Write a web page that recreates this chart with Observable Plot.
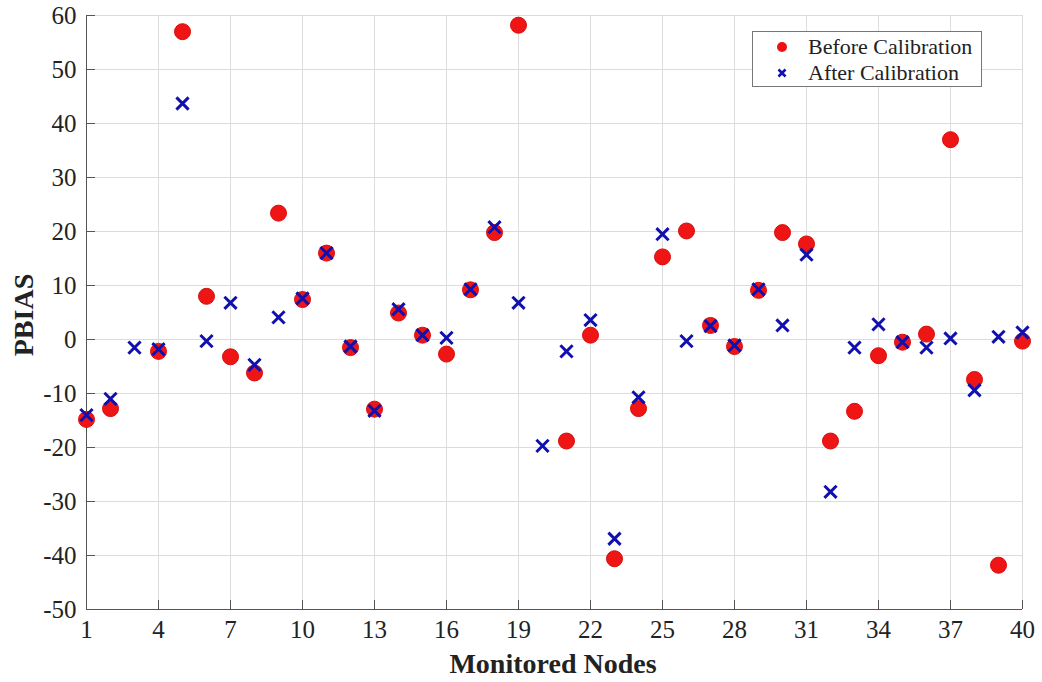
<!DOCTYPE html>
<html>
<head>
<meta charset="utf-8">
<script src="https://cdn.jsdelivr.net/npm/d3@7"></script>
<script src="https://cdn.jsdelivr.net/npm/@observablehq/plot@0.6"></script>
<style>
  html, body { margin: 0; padding: 0; background: #fff; }
  #wrap { position: relative; width: 1042px; height: 682px; font-family: "Liberation Serif", "Times New Roman", serif; }
  #chart svg, #chart svg text { font-family: "Liberation Serif", "Times New Roman", serif !important; }
  #legend {
    position: absolute; left: 752px; top: 31px; width: 230px; height: 56px;
    border: 1px solid #777; background: #fff; box-sizing: border-box;
    font-size: 22px; color: #222;
  }
  #legend .row { position: absolute; left: 0; height: 26px; line-height: 26px; white-space: nowrap; }
  #legend svg { position: absolute; left: 21px; top: 5px; }
  #legend span { position: absolute; left: 55px; top: 0; }
</style>
</head>
<body>
<div id="wrap">
  <div id="chart"></div>
  <div id="legend">
    <div class="row" style="top:2px">
      <svg width="16" height="16"><circle cx="8" cy="8" r="5" fill="#ee1111"></circle></svg>
      <span>Before Calibration</span>
    </div>
    <div class="row" style="top:28px">
      <svg width="16" height="16"><path d="M4.5,4.5L11.5,11.5M11.5,4.5L4.5,11.5" stroke="#1010b0" stroke-width="2.6"></path></svg>
      <span>After Calibration</span>
    </div>
  </div>
</div>
<script>
// Monitored node numbers
const nodes = [1, 2, 3, 4, 5, 6, 7, 8, 9, 10, 11, 12, 13, 14, 15, 16, 17, 18, 19, 20,
               21, 22, 23, 24, 25, 26, 27, 28, 29, 30, 31, 32, 33, 34, 35, 36, 37, 38, 39, 40];

// PBIAS before calibration (null where no value is shown)
const beforeCalibration = [-14.8, -12.8, null, -2.2, 57.0, 8.0, -3.2, -6.2, 23.4, 7.4,
                           16.0, -1.5, -12.9, 4.9, 0.8, -2.7, 9.2, 19.8, 58.2, null,
                           -18.8, 0.8, -40.6, -12.8, 15.3, 20.1, 2.6, -1.3, 9.1, 19.8,
                           17.7, -18.8, -13.3, -3.0, -0.5, 1.0, 37.0, -7.4, -41.8, -0.3];

// PBIAS after calibration
const afterCalibration = [-14.0, -11.0, -1.5, -1.8, 43.7, -0.3, 6.8, -4.7, 4.1, 7.6,
                          16.0, -1.3, -13.2, 5.6, 0.8, 0.3, 9.3, 20.8, 6.8, -19.7,
                          -2.2, 3.6, -36.9, -10.7, 19.5, -0.3, 2.5, -1.1, 9.3, 2.6,
                          15.7, -28.2, -1.5, 2.8, -0.5, -1.5, 0.2, -9.4, 0.5, 1.3];

// Axis ticks
const xTicks = [1, 4, 7, 10, 13, 16, 19, 22, 25, 28, 31, 34, 37, 40];
const yTicks = [-50, -40, -30, -20, -10, 0, 10, 20, 30, 40, 50, 60];

const before = nodes.map((n, i) => ({node: n, pbias: beforeCalibration[i]})).filter(d => d.pbias != null);
const after = nodes.map((n, i) => ({node: n, pbias: afterCalibration[i]}));

// plain hyphen for negative tick labels
const fmt = d => String(d);
const serif = "Liberation Serif, Times New Roman, serif";

const chart = Plot.plot({
  width: 1042,
  height: 682,
  marginLeft: 86,
  marginRight: 20,
  marginTop: 15,
  marginBottom: 73,
  style: {fontFamily: serif, fontSize: "25px", color: "#222", background: "#fff"},
  x: {domain: [1, 40], label: null},
  y: {domain: [-50, 60], label: null},
  marks: [
    Plot.gridX(xTicks, {stroke: "#dcdcdc", strokeOpacity: 1}),
    Plot.gridY(yTicks, {stroke: "#dcdcdc", strokeOpacity: 1}),
    Plot.axisX({ticks: xTicks, tickSize: -9, tickPadding: 20, tickFormat: fmt, stroke: "#555", fill: "#222", fontSize: 25, fontFamily: serif}),
    Plot.axisY({ticks: yTicks, tickSize: -9, tickPadding: 19, tickFormat: fmt, stroke: "#555", fill: "#222", fontSize: 25, fontFamily: serif}),
    Plot.ruleX([1], {stroke: "#555"}),
    Plot.ruleY([-50], {stroke: "#555"}),
    Plot.dot(before, {x: "node", y: "pbias", r: 8, fill: "#ef1515", stroke: "#d80e0e", strokeWidth: 1}),
    Plot.dot(after, {x: "node", y: "pbias", symbol: "times", r: 5.6, stroke: "#1010b0", strokeWidth: 3})
  ]
});
document.getElementById("chart").appendChild(chart);

// Axis titles
const svg = d3.select(chart);
svg.append("text")
  .attr("x", 553).attr("y", 673)
  .attr("text-anchor", "middle")
  .attr("font-size", 28).attr("font-weight", "bold").attr("fill", "#222")
  .text("Monitored Nodes");
svg.append("text")
  .attr("transform", "translate(33,315) rotate(-90)")
  .attr("text-anchor", "middle")
  .attr("font-size", 28).attr("font-weight", "bold").attr("fill", "#222")
  .text("PBIAS");
</script>
</body>
</html>
